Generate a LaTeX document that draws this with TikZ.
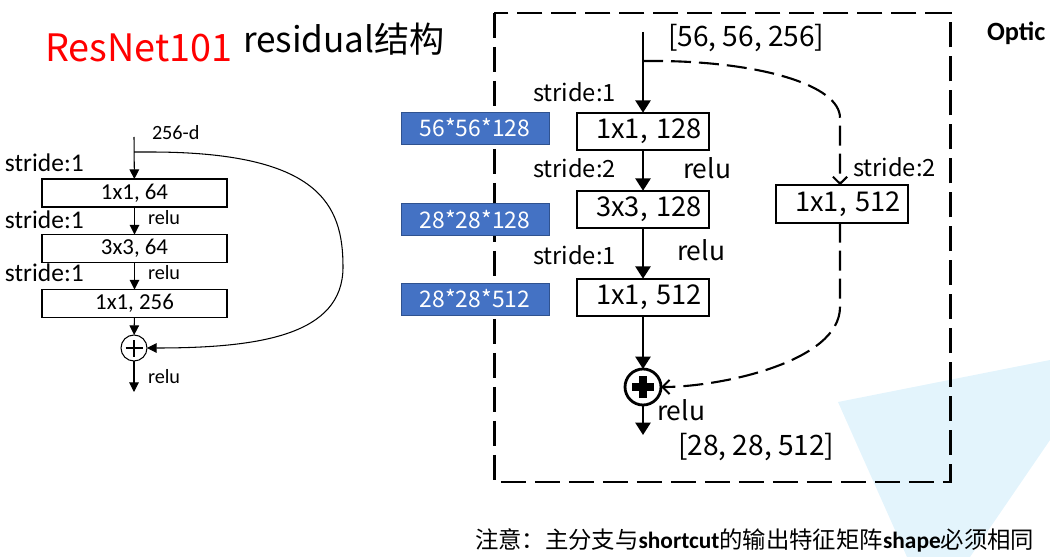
\documentclass[tikz,border=0pt]{standalone}
\usepackage{fontspec}
\setmainfont{Noto Sans CJK SC}
\newfontfamily\calib{Carlito}
\usetikzlibrary{arrows.meta}
\definecolor{boxblue}{HTML}{4472C4}
\definecolor{boxedge}{HTML}{2F528F}
\definecolor{wmblue}{HTML}{E3F4FC}
\newcommand{\fsz}[1]{\fontsize{#1}{#1}\selectfont}
\begin{document}
\begin{tikzpicture}[x=0.02cm,y=-0.02cm,
  every node/.style={inner sep=0pt, outer sep=0pt},
  lbox/.style={draw, line width=0.6pt, minimum width=3.7cm, minimum height=0.56cm, font=\calib\fsz{13}},
  rbox/.style={draw, line width=1.4pt, minimum width=2.64cm, minimum height=0.75cm, text width=2.36cm, align=right, font=\fsz{15.5}},
  dimbox/.style={fill=boxblue, draw=boxedge, text=white, minimum width=2.96cm, minimum height=0.64cm, font=\fsz{13}},
  llab/.style={anchor=west, font=\calib\fsz{14.5}},
  lsmall/.style={anchor=west, font=\calib\fsz{11.5}},
  rlab/.style={anchor=west, font=\fsz{13.5}},
  larr/.style={-{Triangle[length=5.5pt,width=5.5pt]}, line width=0.6pt},
  rarr/.style={-{Triangle[length=7pt,width=8.5pt]}, line width=1.4pt},
  shortcut/.style={line width=1.2pt, dash pattern=on 0.4cm off 0.16cm},
  barb/.style={-{Straight Barb[length=4pt,width=8pt]}}]
\useasboundingbox (0,0) rectangle (1050,557);
\fill[wmblue] (838,402) -- (1050,360) -- (1050,440) -- (970,557) -- (907,557) -- cycle;

\node[anchor=base west, text=red, font=\fsz{21.5}] (title) at (45,62) {ResNet101};
\node[anchor=base west, font=\fsz{20}] (subtitle) at (243,53) {residual结构};
\node[anchor=base west, font=\calib\bfseries\fsz{15}] (option) at (987,41) {Optic};

\coordinate (lin) at (134,137);
\coordinate (lsplit) at (134,152);
\coordinate (lout) at (134,392);
\node[lbox] (l1) at (134.5,193) {1x1, 64};
\node[lbox] (l2) at (134.5,248.5) {3x3, 64};
\node[lbox] (l3) at (134.5,303.5) {1x1, 256};
\node[circle, draw, line width=0.6pt, minimum size=0.52cm,
  path picture={\draw[line width=0.6pt] (path picture bounding box.center) ++(-0.17cm,0) -- ++(0.34cm,0)
    (path picture bounding box.center) ++(0,-0.17cm) -- ++(0,0.34cm);}] (lsum) at (134,348) {};
\node[lsmall] (ldim) at (152,133) {256-d};
\node[llab] (ls1) at (5,163) {stride:1};
\node[llab] (ls2) at (5,220) {stride:1};
\node[llab] (ls3) at (5,273) {stride:1};
\node[lsmall] (lr1) at (148,218) {relu};
\node[lsmall] (lr2) at (148,273) {relu};
\node[lsmall] (lr3) at (148,377) {relu};
\draw[larr] (lin) -- (l1);
\draw[larr] (l1) -- (l2);
\draw[larr] (l2) -- (l3);
\draw[larr] (l3) -- (lsum);
\draw[larr] (lsum) -- (lout);
\draw[larr] (lsplit) -- (150,152) .. controls (320,152) and (343,205) .. (343,267)
  .. controls (343,335) and (260,348) .. (lsum.east);

\draw[line width=1.7pt, dash pattern=on 0.5cm off 0.18cm] (494,13) rectangle (950,482);

\node[dimbox] (d1) at (475,128) {56*56*128};
\node[dimbox] (d2) at (475,219.5) {28*28*128};
\node[dimbox] (d3) at (475,299) {28*28*512};

\coordinate (rin) at (643,32);
\coordinate (rsplit) at (643,61);
\coordinate (rout) at (643,435);
\node[rbox] (r1) at (643,131.5) {1x1, 128};
\node[rbox] (r2) at (643,209.5) {3x3, 128};
\node[rbox] (r3) at (643,297.5) {1x1, 512};
\node[rbox] (down) at (842,204) {1x1, 512};
\node[circle, draw, line width=1.6pt, minimum size=0.72cm,
  path picture={\draw[line width=4.5pt] (path picture bounding box.center) ++(-0.22cm,0) -- ++(0.44cm,0)
    (path picture bounding box.center) ++(0,-0.22cm) -- ++(0,0.44cm);}] (rsum) at (643,387) {};
\node[rlab, font=\fsz{16}] (rdimin) at (668,38) {[56, 56, 256]};
\node[rlab] (rs1) at (533,92) {stride:1};
\node[rlab] (rs2) at (533,168) {stride:2};
\node[rlab, font=\fsz{15}] (rr1) at (683,168) {relu};
\node[rlab] (rs3) at (533,255) {stride:1};
\node[rlab, font=\fsz{15}] (rr2) at (677,250) {relu};
\node[rlab, font=\fsz{15}] (rr3) at (657,410) {relu};
\node[rlab, font=\fsz{16}] (rdimout) at (678,447) {[28, 28, 512]};
\node[rlab] (rs4) at (853,167) {stride:2};
\draw[rarr] (rin) -- (r1);
\draw[rarr] (r1) -- (r2);
\draw[rarr] (r2) -- (r3);
\draw[rarr] (r3) -- (rsum);
\draw[rarr] (rsum) -- (rout);
\draw[shortcut, barb] (rsplit) -- (660,61) .. controls (760,62) and (840,85) .. (840,118) -- (down.north -| 840,0);
\draw[shortcut, barb] (down.south -| 840,0) -- (840,307) .. controls (840,362) and (720,387) .. (rsum.east);

\node[anchor=west, font=\fsz{13.3}] (note) at (475,540) {注意：主分支与{\calib\bfseries shortcut}的输出特征矩阵{\calib\bfseries shape}必须相同};
\end{tikzpicture}
\end{document}
